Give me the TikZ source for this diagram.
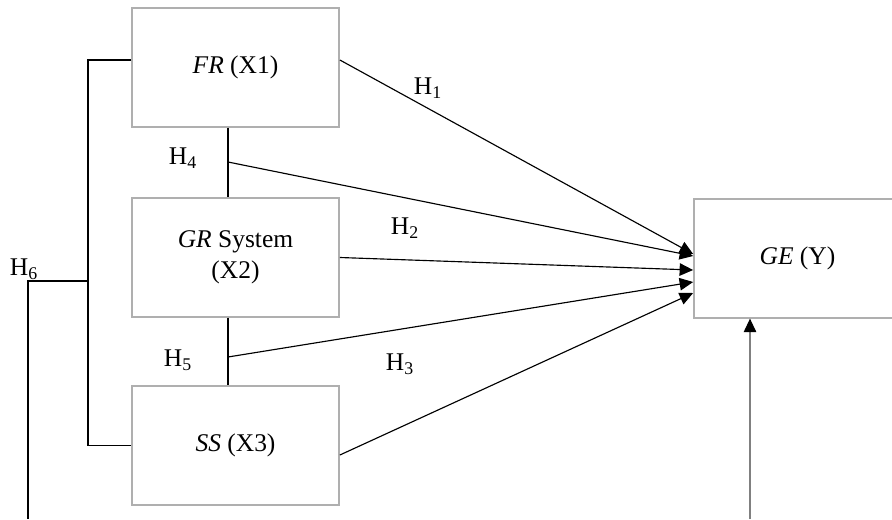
\documentclass[tikz,border=0pt]{standalone}
\usepackage{fontspec}
\setmainfont{Liberation Serif}
\usepackage{xcolor}
\usepackage{tikz}
\usetikzlibrary{arrows.meta, positioning, calc}
\definecolor{boxgray}{RGB}{175, 175, 175}
\tikzstyle{varbox} = [
    draw=boxgray,
    line width=1pt,
    minimum width=4.14cm,
    minimum height=2.37cm,
    align=center,
    font=\fontsize{14.5}{17.5}\selectfont
]
\tikzstyle{arrow} = [
    line width=0.65pt,
    -{Triangle[length=0.27cm, width=0.25cm, color=black]}
]
\tikzstyle{hlabel} = [
    font=\fontsize{14.5}{17.5}\selectfont,
    inner sep=0pt
]

\begin{document}
\begin{tikzpicture}
        \clip (0, 0) rectangle (17.84, 10.38);

        % Variables
        \node[varbox] (fr) at (4.71, 9.03) {\textit{FR} (X1)};
        \node[varbox] (gr) at (4.71, 5.23) {\textit{GR} System\\(X2)};
        \node[varbox] (ss) at (4.71, 1.47) {\textit{SS} (X3)};
        \node[varbox] (ge) at (15.95, 5.21) {\textit{GE} (Y)};

        % Links between X1, X2 and X3
        \coordinate (h4) at (4.56, 7.14);
        \coordinate (h5) at (4.56, 3.24);
        \draw[line width=0.65pt] (fr.south -| h4) -- (gr.north -| h4);
        \draw[line width=0.65pt] (gr.south -| h5) -- (ss.north -| h5);

        % Paths to Y
        \draw[arrow] ([yshift=0.15cm]fr.east) -- ([yshift=0.09cm]ge.west);
        \draw[arrow] (h4) -- ([yshift=0.05cm]ge.west);
        \draw[arrow] (gr.east) -- ([yshift=-0.23cm]ge.west);
        \draw[arrow] (h5) -- ([yshift=-0.47cm]ge.west);
        \draw[arrow] ([yshift=-0.19cm]ss.east) -- ([yshift=-0.69cm]ge.west);

        % Joint effect
        \coordinate (bl) at (1.76, 4.76);
        \coordinate (h6) at (0.56, 4.76);
        \coordinate (h6end) at (0.56, 0);
        \coordinate (geend) at (15.0, 0);
        \draw[line width=0.65pt] ([yshift=0.15cm]fr.west) -| (bl) |- (ss.west);
        \draw[line width=0.65pt] (bl) -- (h6) -- (h6end);
        \draw[arrow, color=gray] (geend) -- (geend |- ge.south);

        % Hypotheses
        \node[hlabel] (l1) at (8.56, 8.62) {H\textsubscript{1}};
        \node[hlabel] (l2) at (8.10, 5.82) {H\textsubscript{2}};
        \node[hlabel] (l3) at (8.00, 3.10) {H\textsubscript{3}};
        \node[hlabel] (l4) at (3.66, 7.22) {H\textsubscript{4}};
        \node[hlabel] (l5) at (3.56, 3.18) {H\textsubscript{5}};
        \node[hlabel] (l6) at (0.48, 5.00) {H\textsubscript{6}};
    \end{tikzpicture}
\end{document}
